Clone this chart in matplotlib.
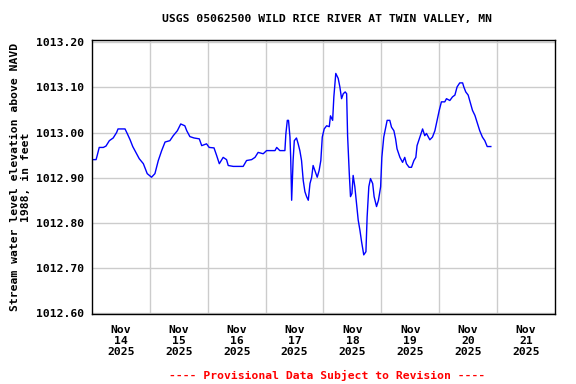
import matplotlib
matplotlib.use("Agg")
import matplotlib.pyplot as plt
import numpy as np
import pandas as pd

# horas desde 14/11/2025 00:00 e nível (ft NAVD88)
horas = [0.3, 1.7, 2.2, 3.0, 4.7, 5.8, 7.2, 8.8, 10.2, 10.8, 13.7, 14.6, 15.8, 16.9,
         18.2, 19.6, 21.3, 22.9, 24.7, 26.1, 27.5, 28.9, 30.3, 32.3, 33.7, 35.4, 36.8,
         38.5, 39.3, 40.6, 42.3, 44.5, 45.5, 47.5, 48.6, 50.6, 51.7, 52.8, 54.4, 55.8,
         56.5, 58.6, 62.7, 64.1, 66.2, 67.6, 68.9, 71.0, 72.4, 75.9, 76.6, 77.9, 80.0,
         80.4, 81.0, 81.5, 82.1, 82.4, 82.8, 83.2, 83.4, 83.9, 84.8, 85.5, 86.2, 86.9,
         87.6, 88.3, 89.0, 89.7, 90.4, 91.1, 91.7, 92.4, 93.4, 94.2, 94.9, 95.5, 96.3,
         97.3, 98.4, 98.9, 99.8, 100.3, 101.1, 102.1, 102.8, 103.5, 104.2, 105.0, 105.6,
         106.0, 106.7, 107.2, 107.8, 108.3, 109.0, 109.7, 110.4, 111.1, 111.8, 112.7,
         113.6, 114.1, 114.8, 115.5, 116.4, 117.0, 118.0, 118.8, 119.7, 120.2, 121.0,
         122.4, 123.5, 124.2, 125.2, 125.9, 126.5, 127.7, 128.8, 129.7, 130.4, 131.5,
         132.5, 133.5, 134.3, 134.8, 136.0, 137.1, 138.0, 138.7, 140.1, 141.2, 142.2,
         143.1, 144.0, 144.9, 146.3, 147.0, 148.4, 149.5, 150.5, 151.4, 152.5, 153.7,
         154.2, 155.0, 156.0, 157.0, 157.8, 158.8, 159.7, 160.8, 161.9, 162.9, 163.9,
         165.4]
nivel = [1012.940, 1012.940, 1012.950, 1012.967, 1012.967, 1012.970, 1012.982, 1012.988,
         1013.000, 1013.008, 1013.008, 1012.998, 1012.984, 1012.969, 1012.956, 1012.942,
         1012.931, 1012.909, 1012.901, 1012.909, 1012.938, 1012.960, 1012.979, 1012.982,
         1012.993, 1013.004, 1013.019, 1013.015, 1013.004, 1012.991, 1012.988, 1012.986,
         1012.971, 1012.975, 1012.967, 1012.966, 1012.949, 1012.931, 1012.945, 1012.940,
         1012.927, 1012.925, 1012.925, 1012.938, 1012.940, 1012.945, 1012.956, 1012.953,
         1012.960, 1012.960, 1012.967, 1012.960, 1012.960, 1012.997, 1013.027, 1013.027,
         1012.990, 1012.945, 1012.850, 1012.910, 1012.938, 1012.982, 1012.988, 1012.975,
         1012.960, 1012.938, 1012.894, 1012.869, 1012.858, 1012.850, 1012.887, 1012.901,
         1012.927, 1012.916, 1012.901, 1012.916, 1012.938, 1012.990, 1013.008, 1013.015,
         1013.013, 1013.037, 1013.027, 1013.079, 1013.131, 1013.120, 1013.101, 1013.075,
         1013.086, 1013.090, 1013.086, 1012.993, 1012.909, 1012.858, 1012.865, 1012.905,
         1012.880, 1012.843, 1012.806, 1012.784, 1012.758, 1012.729, 1012.736, 1012.813,
         1012.880, 1012.898, 1012.887, 1012.858, 1012.836, 1012.850, 1012.880, 1012.945,
         1012.990, 1013.027, 1013.027, 1013.012, 1013.004, 1012.986, 1012.964, 1012.945,
         1012.934, 1012.945, 1012.931, 1012.923, 1012.923, 1012.938, 1012.945, 1012.971,
         1012.990, 1013.008, 1012.993, 1012.998, 1012.984, 1012.990, 1013.004, 1013.027,
         1013.049, 1013.068, 1013.068, 1013.075, 1013.071, 1013.079, 1013.083, 1013.101,
         1013.110, 1013.110, 1013.101, 1013.090, 1013.083, 1013.064, 1013.049, 1013.038,
         1013.023, 1013.004, 1012.990, 1012.982, 1012.969, 1012.969]

inicio = pd.Timestamp("2025-11-14")
tempo = inicio + pd.to_timedelta(horas, unit="h")
dias = pd.date_range("2025-11-14", "2025-11-21")
rotulos = [d.strftime("%b\n%d\n%Y") for d in dias]
yticks = [1012.60, 1012.70, 1012.80, 1012.90, 1013.00, 1013.10, 1013.20]

fonte = dict(family="DejaVu Sans Mono", fontweight="bold", fontsize=8.2)

fig = plt.figure(figsize=(5.76, 3.84), dpi=100)
ax = fig.add_axes([0.1597, 0.1823, 0.8038, 0.7135])
ax.plot(tempo, nivel, color="#0000ff", linewidth=1)

ax.set_xlim(inicio, inicio + pd.Timedelta(days=8))
ax.set_ylim(1012.598, 1013.205)

ax.set_xticks(dias + pd.Timedelta(hours=12))
ax.set_xticklabels(rotulos, linespacing=1.12, **fonte)
ax.set_xticks(pd.date_range("2025-11-15", "2025-11-21"), minor=True)
ax.tick_params(axis="x", which="both", length=0, pad=8)
ax.grid(which="minor", axis="x", color="#cccccc", linewidth=1)

ax.set_yticks(yticks)
ax.set_yticklabels([f"{v:.2f}" for v in yticks], **fonte)
ax.tick_params(axis="y", length=0, pad=6)
ax.grid(which="major", axis="y", color="#cccccc", linewidth=1)

for s in ax.spines.values():
    s.set_linewidth(1)
    s.set_color("black")

ax.set_ylabel("Stream water level elevation above NAVD\n1988, in feet", **fonte, labelpad=3)
fig.text(0.568, 0.95, "USGS 05062500 WILD RICE RIVER AT TWIN VALLEY, MN",
         ha="center", va="center", **fonte)
fig.text(0.568, 0.023, "---- Provisional Data Subject to Revision ----",
         ha="center", va="center", color="red", **fonte)

fig.savefig("out.png", dpi=100)
